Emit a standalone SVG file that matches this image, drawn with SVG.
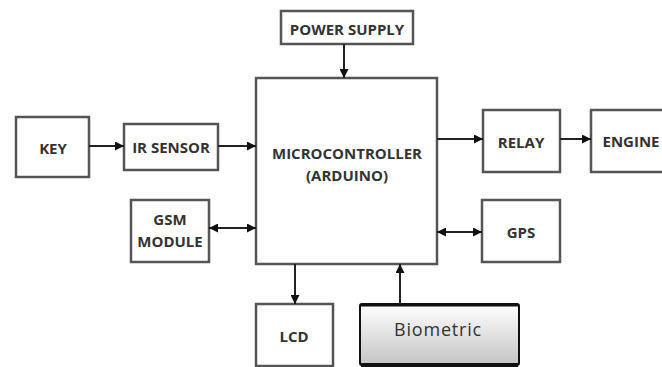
<svg xmlns="http://www.w3.org/2000/svg" width="662" height="367" viewBox="0 0 662 367">
<defs>
<marker id="ah" viewBox="0 0 10 10" refX="10" refY="5" markerWidth="9" markerHeight="9" markerUnits="userSpaceOnUse" orient="auto-start-reverse"><path d="M0,0 L10,5 L0,10 z" fill="#111"/></marker>
<linearGradient id="bg" x1="0" y1="0" x2="0" y2="1"><stop offset="0" stop-color="#ffffff"/><stop offset="1" stop-color="#c4c4c4"/></linearGradient>
</defs>
<style>
.box{fill:#fff;stroke:#555;stroke-width:2.5}
.lbl{font-family:"Open Sans","Liberation Sans",sans-serif;font-weight:bold;font-size:15px;fill:#333;text-anchor:middle}
.con{stroke:#222;stroke-width:2;fill:none}
</style>
<rect width="662" height="367" fill="#fff"/>
<g id="power"><rect class="box" x="281" y="11" width="132" height="33"/><text class="lbl" x="347" y="35">POWER SUPPLY</text></g>
<g id="mcu"><rect class="box" x="256" y="78" width="181" height="186"/><text class="lbl" x="347" y="159">MICROCONTROLLER</text><text class="lbl" x="347" y="181">(ARDUINO)</text></g>
<g id="key"><rect class="box" x="16" y="117" width="73" height="60"/><text class="lbl" x="53" y="154">KEY</text></g>
<g id="ir"><rect class="box" x="124" y="124" width="94" height="46"/><text class="lbl" x="171" y="153">IR SENSOR</text></g>
<g id="relay"><rect class="box" x="483" y="110" width="77" height="62"/><text class="lbl" x="521" y="148">RELAY</text></g>
<g id="engine"><rect class="box" x="591" y="110" width="90" height="62"/><text class="lbl" x="631" y="147">ENGINE</text></g>
<g id="gsm"><rect class="box" x="131" y="200" width="78" height="62"/><text class="lbl" x="170" y="225">GSM</text><text class="lbl" x="170" y="247">MODULE</text></g>
<g id="gps"><rect class="box" x="482" y="200" width="78" height="62"/><text class="lbl" x="521" y="238">GPS</text></g>
<g id="lcd"><rect class="box" x="256" y="304" width="77" height="62"/><text class="lbl" x="294" y="342">LCD</text></g>
<g id="biometric"><rect x="360" y="304" width="159" height="61" rx="2" fill="url(#bg)" stroke="#111" stroke-width="2"/><line x1="361" y1="305" x2="518" y2="305" stroke="#111" stroke-width="3"/><line x1="361" y1="365" x2="518" y2="365" stroke="#111" stroke-width="4"/><text x="438" y="336" font-family="'Open Sans','Liberation Sans',sans-serif" font-size="18" letter-spacing="0.8" fill="#333" text-anchor="middle">Biometric</text></g>
<g id="connectors">
<line class="con" x1="89" y1="146" x2="124" y2="146" marker-end="url(#ah)"/>
<line class="con" x1="218" y1="146" x2="256" y2="146" marker-end="url(#ah)"/>
<line class="con" x1="344" y1="44" x2="344" y2="78" marker-end="url(#ah)"/>
<line class="con" x1="437" y1="139" x2="483" y2="139" marker-end="url(#ah)"/>
<line class="con" x1="560" y1="139" x2="591" y2="139" marker-end="url(#ah)"/>
<line class="con" x1="209" y1="228" x2="256" y2="228" marker-start="url(#ah)" marker-end="url(#ah)"/>
<line class="con" x1="437" y1="232" x2="482" y2="232" marker-start="url(#ah)" marker-end="url(#ah)"/>
<line class="con" x1="295" y1="264" x2="295" y2="304" marker-end="url(#ah)"/>
<line class="con" x1="400" y1="304" x2="400" y2="264" marker-end="url(#ah)"/>
</g>
</svg>
